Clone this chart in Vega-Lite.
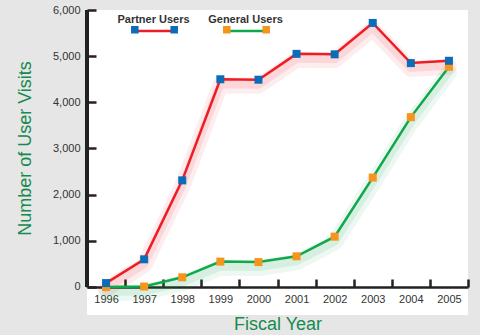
{
  "$schema": "https://vega.github.io/schema/vega-lite/v6.json",
  "autosize": "none",
  "width": 381,
  "height": 305,
  "padding": {"left": 87, "top": 10, "right": 12, "bottom": 20},
  "background": "#e6e6e6",
  "view": {"fill": "white", "stroke": null},
  "config": {"font": "Liberation Sans"},
  "data": {"values": [
    {"year": "1996", "series": "General Users", "users": 0},
    {"year": "1997", "series": "General Users", "users": 10},
    {"year": "1998", "series": "General Users", "users": 210},
    {"year": "1999", "series": "General Users", "users": 550},
    {"year": "2000", "series": "General Users", "users": 540},
    {"year": "2001", "series": "General Users", "users": 665},
    {"year": "2002", "series": "General Users", "users": 1090},
    {"year": "2003", "series": "General Users", "users": 2370},
    {"year": "2004", "series": "General Users", "users": 3680},
    {"year": "2005", "series": "General Users", "users": 4770},
    {"year": "1996", "series": "Partner Users", "users": 85},
    {"year": "1997", "series": "Partner Users", "users": 600},
    {"year": "1998", "series": "Partner Users", "users": 2310},
    {"year": "1999", "series": "Partner Users", "users": 4500},
    {"year": "2000", "series": "Partner Users", "users": 4490},
    {"year": "2001", "series": "Partner Users", "users": 5050},
    {"year": "2002", "series": "Partner Users", "users": 5040},
    {"year": "2003", "series": "Partner Users", "users": 5720},
    {"year": "2004", "series": "Partner Users", "users": 4850},
    {"year": "2005", "series": "Partner Users", "users": 4900}
  ]},
  "encoding": {
    "x": {"field": "year", "type": "ordinal", "scale": {"paddingInner": 0, "paddingOuter": 0},
      "axis": {"title": "Fiscal Year", "titleColor": "#168a4f", "titleFontSize": 18, "titleFontWeight": "normal", "titlePadding": 11,
        "offset": -28,
        "labelAngle": 0, "labelFontSize": 11, "labelColor": "#333", "labelPadding": 14,
        "tickBand": "extent", "tickSize": -8, "tickWidth": 2.5, "tickColor": "#222",
        "domainColor": "#222", "domainWidth": 2.5}},
    "y": {"field": "users", "type": "quantitative", "scale": {"domain": [-606.5, 6000], "nice": false, "zero": false},
      "axis": {"title": "Number of User Visits", "titleColor": "#168a4f", "titleFontSize": 18, "titleFontWeight": "normal", "titlePadding": 18,
        "titleY": 138,
        "values": [0, 1000, 2000, 3000, 4000, 5000, 6000], "format": ",d", "labelFontSize": 11, "labelColor": "#333", "labelPadding": 16,
        "tickSize": -9, "tickWidth": 2.5, "tickColor": "#222", "domain": false, "grid": false}}
  },
  "layer": [
    {
      "mark": {"type": "line", "strokeWidth": 16, "opacity": 0.08, "yOffset": 6, "strokeCap": "round", "strokeJoin": "round"},
      "encoding": {"color": {"field": "series", "type": "nominal", "legend": null, "sort": ["Partner Users", "General Users"],
        "scale": {"range": ["#ee1d24", "#0fa84a"]}}}
    },
    {
      "mark": {"type": "line", "strokeWidth": 8, "opacity": 0.1, "yOffset": 5, "strokeCap": "round", "strokeJoin": "round"},
      "encoding": {"color": {"field": "series", "type": "nominal", "legend": null, "sort": ["Partner Users", "General Users"]}}
    },
    {
      "mark": {"type": "rule", "color": "#222", "strokeWidth": 2.5},
      "encoding": {
        "x": {"datum": "1996", "type": "ordinal", "bandPosition": 0},
        "y": {"datum": 0, "type": "quantitative"},
        "y2": {"datum": 6000},
        "color": null
      }
    },
    {
      "mark": {"type": "line", "strokeWidth": 2.5},
      "encoding": {"stroke": {"field": "series", "type": "nominal",
        "scale": {"domain": ["Partner Users", "General Users"], "range": ["#ee1d24", "#0fa84a"]},
        "legend": {"orient": "none", "legendX": 44, "legendY": -4, "direction": "horizontal", "title": null,
          "symbolType": "M-0.84,0H0.84", "symbolSize": 2200, "symbolStrokeWidth": 2.5,
          "labelFontSize": 11, "labelFontWeight": "bold", "labelColor": "#333", "labelAlign": "center", "labelOffset": -27.5, "columnPadding": 18,
          "encode": {"labels": {"update": {"dy": {"value": -11}}}}}}}
    },
    {
      "transform": [{"calculate": "datum.series", "as": "key"}],
      "mark": {"type": "point", "shape": "square", "filled": true, "size": 64, "opacity": 1},
      "encoding": {"fill": {"field": "key", "type": "nominal", "sort": ["Partner Users", "General Users"],
        "scale": {"range": ["#0b6cb8", "#f7941d"]},
        "legend": {"orient": "none", "legendX": 44, "legendY": -4, "direction": "horizontal", "title": null,
          "symbolType": "M-1,-0.16H-0.68V0.16H-1ZM0.68,-0.16H1V0.16H0.68Z", "symbolSize": 2200, "symbolStrokeWidth": 0,
          "labelExpr": "''", "labelOffset": 0, "columnPadding": 45}}}
    }
  ]
}
